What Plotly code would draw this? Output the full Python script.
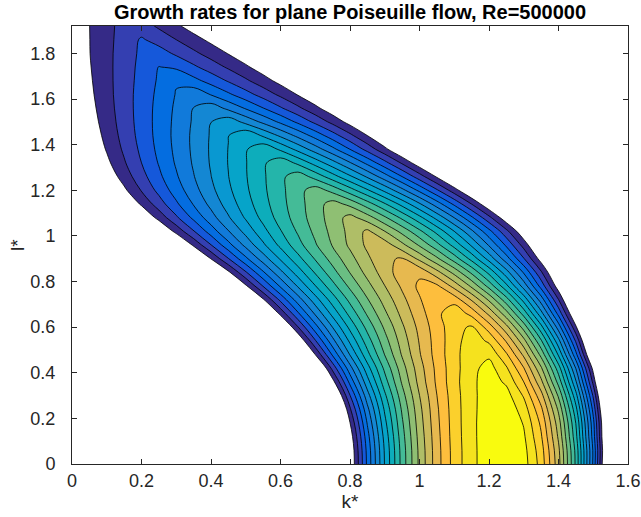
import numpy as np
import plotly.graph_objects as go

# ---------------- data ----------------
k_grid = [0.0, 0.05, 0.1, 0.15, 0.2, 0.25, 0.3, 0.35, 0.4, 0.45, 0.5, 0.55, 0.6, 0.65,
          0.7, 0.75, 0.8, 0.85, 0.9, 0.95, 1.0, 1.05, 1.1, 1.15, 1.2, 1.25, 1.3, 1.35,
          1.4, 1.45, 1.5, 1.55, 1.6]
l_grid = [0.0, 0.06, 0.12, 0.18, 0.24, 0.3, 0.36, 0.42, 0.48, 0.54, 0.6, 0.66, 0.72,
          0.78, 0.84, 0.9, 0.96, 1.02, 1.08, 1.14, 1.2, 1.26, 1.32, 1.38, 1.44, 1.5,
          1.56, 1.62, 1.68, 1.74, 1.8, 1.86, 1.92]

# growth rate (in contour-level units) along each row l*, negative = stable
g_l000 = [-20, -20, -20, -20, -20, -20, -20, -20, -20, -20, -20, -20, -20, -20, -20,
          -5.91, -1.08, 3.24, 7.07, 10.40, 13.23, 15.57, 17.40, 18.74, 19.57, 19.91,
          19.44, 17.60, 14.38, 9.78, 3.80, -3.56, -12.29]
g_l006 = [-20, -20, -20, -20, -20, -20, -20, -20, -20, -20, -20, -20, -20, -20, -20,
          -5.79, -0.99, 3.32, 7.13, 10.44, 13.26, 15.59, 17.41, 18.74, 19.58, 19.91,
          19.34, 17.44, 14.23, 9.70, 3.85, -3.32, -11.80]
g_l012 = [-20, -20, -20, -20, -20, -20, -20, -20, -20, -20, -20, -20, -20, -20, -20,
          -5.34, -0.62, 3.61, 7.35, 10.61, 13.38, 15.66, 17.46, 18.76, 19.58, 19.91,
          19.15, 17.12, 13.84, 9.30, 3.51, -3.54, -11.85]
g_l018 = [-20, -20, -20, -20, -20, -20, -20, -20, -20, -20, -20, -20, -20, -20,
          -9.58, -4.56, -0.02, 4.09, 7.71, 10.85, 13.54, 15.75, 17.49, 18.77, 19.57,
          19.87, 18.92, 16.79, 13.47, 8.97, 3.29, -3.58, -11.64]
g_l024 = [-20, -20, -20, -20, -20, -20, -20, -20, -20, -20, -20, -20, -20, -20,
          -8.26, -3.50, 0.83, 4.72, 8.16, 11.16, 13.72, 15.84, 17.52, 18.75, 19.55,
          19.73, 18.52, 16.22, 12.81, 8.30, 2.69, -4.03, -11.85]
g_l030 = [-20, -20, -20, -20, -20, -20, -20, -20, -20, -20, -20, -20, -20,
          -11.33, -6.49, -2.06, 1.96, 5.58, 8.79, 11.60, 13.99, 15.99, 17.57, 18.75,
          19.52, 19.40, 17.89, 15.37, 11.86, 7.35, 1.85, -4.66, -12.16]
g_l036 = [-20, -20, -20, -20, -20, -20, -20, -20, -20, -20, -20, -20, -20,
          -8.86, -4.44, -0.39, 3.30, 6.61, 9.56, 12.14, 14.35, 16.19, 17.66, 18.77,
          19.51, 18.83, 17.00, 14.26, 10.64, 6.12, 0.71, -5.59, -12.79]
g_l042 = [-20, -20, -20, -20, -20, -20, -20, -20, -20, -20, -20, -20,
          -10.45, -6.20, -2.28, 1.33, 4.62, 7.59, 10.24, 12.57, 14.58, 16.27, 17.64,
          18.68, 19.41, 18.15, 16.06, 13.16, 9.47, 4.96, -0.34, -6.45, -13.36]
g_l048 = [-20, -20, -20, -20, -20, -20, -20, -20, -20, -20, -20, -20,
          -7.17, -3.45, 0.02, 3.17, 6.07, 8.69, 11.04, 13.11, 14.91, 16.43, 17.68,
          18.65, 18.79, 17.15, 14.78, 11.68, 7.85, 3.30, -1.99, -8.00, -14.73]
g_l054 = [-20, -20, -20, -20, -20, -20, -20, -20, -20, -20, -20,
          -7.82, -4.35, -1.11, 1.90, 4.68, 7.22, 9.53, 11.61, 13.46, 15.08, 16.46,
          17.61, 18.53, 17.83, 15.89, 13.33, 10.13, 6.31, 1.86, -3.22, -8.93, -15.27]
g_l060 = [-20, -20, -20, -20, -20, -20, -20, -20, -20, -20, -20,
          -4.94, -1.90, 0.94, 3.59, 6.03, 8.28, 10.33, 12.18, 13.83, 15.29, 16.54,
          17.60, 18.16, 16.51, 14.32, 11.59, 8.33, 4.53, 0.19, -4.70, -10.11, -16.07]
g_l066 = [-20, -20, -20, -20, -20, -20, -20, -20, -20,
          -8.26, -5.23, -2.37, 0.31, 2.83, 5.17, 7.34, 9.34, 11.16, 12.81, 14.29,
          15.60, 16.73, 17.70, 16.67, 14.75, 12.39, 9.59, 6.35, 2.67, -1.45, -6.02,
          -11.02, -16.47]
g_l072 = [-20, -20, -20, -20, -20, -20, -20, -20, -20,
          -5.37, -2.69, -0.15, 2.24, 4.48, 6.56, 8.49, 10.28, 11.91, 13.39, 14.72,
          15.90, 16.92, 16.61, 14.90, 12.84, 10.42, 7.65, 4.52, 1.04, -2.80, -6.99,
          -11.53, -16.43]
g_l078 = [-20, -20, -20, -20, -20, -20, -20,
          -7.66, -5.04, -2.54, -0.18, 2.05, 4.15, 6.11, 7.95, 9.65, 11.23, 12.67,
          13.98, 15.17, 16.22, 16.21, 14.64, 12.79, 10.66, 8.26, 5.58, 2.63, -0.60,
          -4.11, -7.90, -11.96, -16.29]
g_l084 = [-20, -20, -20, -20, -20, -20, -20,
          -4.75, -2.43, -0.22, 1.88, 3.86, 5.73, 7.48, 9.11, 10.63, 12.04, 13.33,
          14.50, 15.56, 15.78, 14.34, 12.68, 10.80, 8.72, 6.41, 3.89, 1.16, -1.80,
          -4.96, -8.35, -11.94, -15.75]
g_l090 = [-20, -20, -20, -20, -20,
          -6.30, -4.09, -1.98, 0.04, 1.96, 3.78, 5.50, 7.13, 8.66, 10.09, 11.42, 12.66,
          13.80, 14.84, 15.09, 13.74, 12.21, 10.52, 8.66, 6.63, 4.43, 2.07, -0.47,
          -3.17, -6.04, -9.08, -12.28, -15.65]
g_l096 = [-20, -20, -20, -20, -20,
          -3.63, -1.68, 0.18, 1.97, 3.66, 5.28, 6.81, 8.25, 9.61, 10.89, 12.08, 13.19,
          14.21, 14.54, 13.27, 11.86, 10.32, 8.65, 6.84, 4.89, 2.81, 0.60, -1.75,
          -4.23, -6.85, -9.61, -12.49, -15.51]
g_l102 = [-20, -20, -20,
          -4.90, -3.09, -1.35, 0.33, 1.93, 3.47, 4.94, 6.34, 7.67, 8.93, 10.13, 11.25,
          12.31, 13.29, 14.21, 13.01, 11.68, 10.23, 8.68, 7.00, 5.21, 3.30, 1.27,
          -0.87, -3.13, -5.50, -8.00, -10.60, -13.33, -16.17]
g_l108 = [-20, -20,
          -4.38, -2.75, -1.16, 0.36, 1.83, 3.24, 4.59, 5.89, 7.12, 8.30, 9.43, 10.49,
          11.50, 12.46, 13.35, 12.46, 11.17, 9.77, 8.28, 6.68, 4.98, 3.18, 1.27, -0.74,
          -2.85, -5.06, -7.38, -9.79, -12.31, -14.94, -17.66]
g_l114 = [-5.73, -4.18, -2.69, -1.24, 0.17, 1.52, 2.83, 4.08, 5.29, 6.45, 7.57, 8.63,
          9.65, 10.62, 11.54, 12.41, 11.71, 10.45, 9.10, 7.65, 6.12, 4.49, 2.78, 0.97,
          -0.92, -2.91, -4.98, -7.15, -9.41, -11.75, -14.19, -16.72, -19.34]
g_l120 = [-4.27, -2.87, -1.52, -0.21, 1.07, 2.29, 3.48, 4.63, 5.74, 6.80, 7.82, 8.80,
          9.74, 10.64, 11.50, 10.67, 9.44, 8.13, 6.75, 5.29, 3.75, 2.14, 0.45, -1.31,
          -3.16, -5.08, -7.07, -9.14, -11.29, -13.52, -15.82, -18.2, -20]
g_l126 = [-3.30, -2.01, -0.76, 0.46, 1.64, 2.78, 3.88, 4.95, 5.98, 6.98, 7.93, 8.86,
          9.74, 10.59, 9.63, 8.43, 7.17, 5.84, 4.45, 2.99, 1.46, -0.13, -1.79, -3.51,
          -5.30, -7.16, -9.08, -11.06, -13.12, -15.23, -17.42, -19.67, -20]
g_l132 = [-2.64, -1.43, -0.25, 0.89, 2.00, 3.07, 4.12, 5.12, 6.10, 7.04, 7.95, 8.83,
          9.67, 8.78, 7.61, 6.38, 5.08, 3.73, 2.32, 0.85, -0.68, -2.27, -3.91, -5.62,
          -7.38, -9.21, -11.09, -13.03, -15.03, -17.09, -19.21, -20, -20]
g_l138 = [-2.17, -1.03, 0.09, 1.17, 2.22, 3.25, 4.24, 5.20, 6.13, 7.03, 7.90, 8.74,
          7.82, 6.69, 5.50, 4.27, 2.98, 1.64, 0.26, -1.18, -2.67, -4.21, -5.81, -7.45,
          -9.14, -10.89, -12.68, -14.53, -16.42, -18.4, -20, -20, -20]
g_l144 = [-1.84, -0.75, 0.32, 1.35, 2.36, 3.34, 4.29, 5.21, 6.10, 6.97, 7.81, 6.85,
          5.81, 4.72, 3.60, 2.44, 1.24, -0.01, -1.28, -2.60, -3.96, -5.36, -6.80,
          -8.28, -9.80, -11.36, -12.96, -14.60, -16.3, -18.0, -19.7, -20, -20]
g_l150 = [-1.56, -0.53, 0.48, 1.46, 2.42, 3.35, 4.25, 5.13, 5.99, 6.61, 5.70, 4.76,
          3.79, 2.79, 1.75, 0.69, -0.40, -1.52, -2.67, -3.85, -5.06, -6.30, -7.57,
          -8.87, -10.20, -11.56, -12.96, -14.38, -15.8, -17.3, -18.8, -20, -20]
g_l156 = [-1.34, -0.37, 0.59, 1.52, 2.43, 3.32, 4.18, 5.02, 5.56, 4.74, 3.89, 3.02,
          2.12, 1.21, 0.27, -0.70, -1.68, -2.69, -3.72, -4.78, -5.86, -6.96, -8.08,
          -9.23, -10.40, -11.6, -12.8, -14.0, -15.2, -16.5, -17.8, -19.1, -20]
g_l162 = [-1.16, -0.24, 0.66, 1.55, 2.40, 3.24, 4.06, 4.68, 3.94, 3.17, 2.39, 1.59,
          0.77, -0.07, -0.92, -1.79, -2.68, -3.59, -4.52, -5.46, -6.42, -7.40, -8.40,
          -9.41, -10.4, -11.5, -12.6, -13.6, -14.7, -15.8, -17.0, -18.1, -19.2]
g_l168 = [-1.02, -0.15, 0.70, 1.53, 2.34, 3.13, 3.91, 3.32, 2.62, 1.90, 1.17, 0.42,
          -0.34, -1.11, -1.90, -2.70, -3.52, -4.35, -5.20, -6.06, -6.93, -7.83, -8.73,
          -9.65, -10.6, -11.5, -12.5, -13.5, -14.5, -15.5, -16.5, -17.5, -18.6]
g_l174 = [-0.90, -0.08, 0.72, 1.51, 2.28, 3.03, 2.83, 2.18, 1.52, 0.85, 0.17, -0.53,
          -1.24, -1.96, -2.69, -3.43, -4.18, -4.95, -5.73, -6.52, -7.32, -8.1, -9.0,
          -9.8, -10.6, -11.5, -12.3, -13.2, -14.1, -15.0, -15.9, -16.8, -17.7]
g_l180 = [-0.81, -0.03, 0.73, 1.47, 2.20, 2.44, 1.83, 1.22, 0.59, -0.05, -0.70, -1.36,
          -2.03, -2.71, -3.40, -4.10, -4.81, -5.53, -6.26, -6.99, -7.7, -8.5, -9.3,
          -10.0, -10.8, -11.6, -12.4, -13.2, -14.0, -14.8, -15.6, -16.4, -17.3]
g_l186 = [-0.75, -0.02, 0.71, 1.42, 2.12, 1.61, 1.00, 0.38, -0.25, -0.90, -1.55, -2.21,
          -2.88, -3.56, -4.25, -4.95, -5.66, -6.4, -7.1, -7.8, -8.6, -9.3, -10.1,
          -10.9, -11.7, -12.5, -13.3, -14.1, -14.9, -15.7, -16.5, -17.3, -18.1]
g_l192 = [-0.71, -0.01, 0.69, 1.37, 1.46, 0.83, 0.18, -0.47, -1.14, -1.82, -2.50,
          -3.20, -3.91, -4.63, -5.36, -6.10, -6.85, -7.6, -8.4, -9.2, -10.0, -10.8,
          -11.6, -12.4, -13.2, -14.0, -14.9, -15.7, -16.6, -17.5, -18.4, -19.3, -20.0]

growth = [g_l000, g_l006, g_l012, g_l018, g_l024, g_l030, g_l036, g_l042, g_l048,
          g_l054, g_l060, g_l066, g_l072, g_l078, g_l084, g_l090, g_l096, g_l102,
          g_l108, g_l114, g_l120, g_l126, g_l132, g_l138, g_l144, g_l150, g_l156,
          g_l162, g_l168, g_l174, g_l180, g_l186, g_l192]

x_ticks = [0, 0.2, 0.4, 0.6, 0.8, 1.0, 1.2, 1.4, 1.6]
x_tick_text = ["0", "0.2", "0.4", "0.6", "0.8", "1", "1.2", "1.4", "1.6"]
y_ticks = [0, 0.2, 0.4, 0.6, 0.8, 1.0, 1.2, 1.4, 1.6, 1.8]
y_tick_text = ["0", "0.2", "0.4", "0.6", "0.8", "1", "1.2", "1.4", "1.6", "1.8"]

# ---------------- style: MATLAB parula colormap ----------------
PARULA = np.array([
    [0.2081, 0.1663, 0.5292], [0.2116, 0.1898, 0.5777], [0.2123, 0.2138, 0.6270],
    [0.2081, 0.2386, 0.6771], [0.1959, 0.2645, 0.7279], [0.1707, 0.2919, 0.7792],
    [0.1253, 0.3242, 0.8303], [0.0591, 0.3598, 0.8683], [0.0117, 0.3875, 0.8820],
    [0.0060, 0.4086, 0.8828], [0.0165, 0.4266, 0.8786], [0.0329, 0.4430, 0.8720],
    [0.0498, 0.4586, 0.8641], [0.0629, 0.4737, 0.8554], [0.0723, 0.4887, 0.8467],
    [0.0779, 0.5040, 0.8384], [0.0793, 0.5200, 0.8312], [0.0749, 0.5375, 0.8263],
    [0.0641, 0.5570, 0.8240], [0.0488, 0.5772, 0.8228], [0.0343, 0.5966, 0.8199],
    [0.0265, 0.6137, 0.8135], [0.0239, 0.6287, 0.8038], [0.0231, 0.6418, 0.7913],
    [0.0228, 0.6535, 0.7768], [0.0267, 0.6642, 0.7607], [0.0384, 0.6743, 0.7436],
    [0.0590, 0.6838, 0.7254], [0.0843, 0.6928, 0.7062], [0.1133, 0.7015, 0.6859],
    [0.1453, 0.7098, 0.6646], [0.1801, 0.7177, 0.6424], [0.2178, 0.7250, 0.6193],
    [0.2586, 0.7317, 0.5954], [0.3022, 0.7376, 0.5712], [0.3482, 0.7424, 0.5473],
    [0.3953, 0.7459, 0.5244], [0.4420, 0.7481, 0.5033], [0.4871, 0.7491, 0.4840],
    [0.5300, 0.7491, 0.4661], [0.5709, 0.7485, 0.4494], [0.6099, 0.7473, 0.4337],
    [0.6473, 0.7456, 0.4188], [0.6834, 0.7435, 0.4044], [0.7184, 0.7411, 0.3905],
    [0.7525, 0.7384, 0.3768], [0.7858, 0.7356, 0.3633], [0.8185, 0.7327, 0.3498],
    [0.8507, 0.7299, 0.3360], [0.8824, 0.7274, 0.3217], [0.9139, 0.7258, 0.3063],
    [0.9450, 0.7261, 0.2886], [0.9739, 0.7314, 0.2666], [0.9938, 0.7455, 0.2403],
    [0.9990, 0.7653, 0.2164], [0.9955, 0.7861, 0.1967], [0.9880, 0.8066, 0.1794],
    [0.9789, 0.8271, 0.1633], [0.9697, 0.8481, 0.1475], [0.9626, 0.8705, 0.1309],
    [0.9589, 0.8949, 0.1132], [0.9598, 0.9218, 0.0948], [0.9661, 0.9514, 0.0755],
    [0.9763, 0.9831, 0.0538]])


def parula(f):
    pos = f * (len(PARULA) - 1)
    i0 = int(np.floor(pos))
    i1 = min(i0 + 1, len(PARULA) - 1)
    w = pos - i0
    c = (1 - w) * PARULA[i0] + w * PARULA[i1]
    return "rgb(%d,%d,%d)" % tuple(np.round(c * 255).astype(int))


n_levels = 20  # contour levels 0..19
colorscale = [[0.0, "rgb(255,255,255)"]]
for i in range(n_levels):
    colorscale.append([(i + 1) / n_levels, parula(i / (n_levels - 1))])

AXIS_COLOR = "#262626"
FONT = "Liberation Sans, Arial, Helvetica, sans-serif"
W, H = 641, 517
M_L, M_R, M_T, M_B = 72, 13, 26, 53

fig = go.Figure(go.Contour(
    x=k_grid, y=l_grid, z=growth,
    autocontour=False,
    contours=dict(start=0, end=n_levels - 1, size=1, coloring="fill", showlines=True),
    colorscale=colorscale,
    showscale=False,
    line=dict(color="black", width=0.8, smoothing=1.0),
    hoverinfo="skip",
))

fig.update_layout(
    width=W, height=H,
    margin=dict(l=M_L, r=M_R, t=M_T, b=M_B),
    paper_bgcolor="white", plot_bgcolor="white",
    font=dict(family=FONT, size=18, color=AXIS_COLOR),
    title=dict(text="<b>Growth rates for plane Poiseuille flow, Re=500000</b>",
               font=dict(family=FONT, size=20, color="black"),
               x=0.5, xref="paper", xanchor="center",
               y=1 - 12 / H, yref="container", yanchor="middle"),
    showlegend=False,
    annotations=[dict(text="l*", textangle=-90, showarrow=False,
                      xref="paper", yref="paper",
                      x=(17 - M_L) / (W - M_L - M_R), y=0.5,
                      xanchor="center", yanchor="middle",
                      font=dict(family=FONT, size=19, color=AXIS_COLOR))],
)
fig.update_xaxes(range=[0, 1.6], tickvals=x_ticks, ticktext=x_tick_text,
                 ticks="inside", ticklen=5, tickcolor=AXIS_COLOR, showline=True,
                 linecolor=AXIS_COLOR, linewidth=1, mirror="ticks", showgrid=False,
                 zeroline=False, automargin=False,
                 tickfont=dict(size=18, color=AXIS_COLOR),
                 title=dict(text="k*", font=dict(size=19, color=AXIS_COLOR), standoff=2))
fig.update_yaxes(range=[0, 1.92], tickvals=y_ticks, ticktext=y_tick_text,
                 ticks="inside", ticklen=5, tickcolor=AXIS_COLOR, showline=True,
                 linecolor=AXIS_COLOR, linewidth=1, mirror="ticks", showgrid=False,
                 zeroline=False, automargin=False,
                 tickfont=dict(size=18, color=AXIS_COLOR),
                 ticklabelstandoff=12)

fig.write_html("out.html",
               config={"displayModeBar": False, "staticPlot": True},
               post_script="document.body.style.margin='0';"
                           "document.body.style.padding='0';")
